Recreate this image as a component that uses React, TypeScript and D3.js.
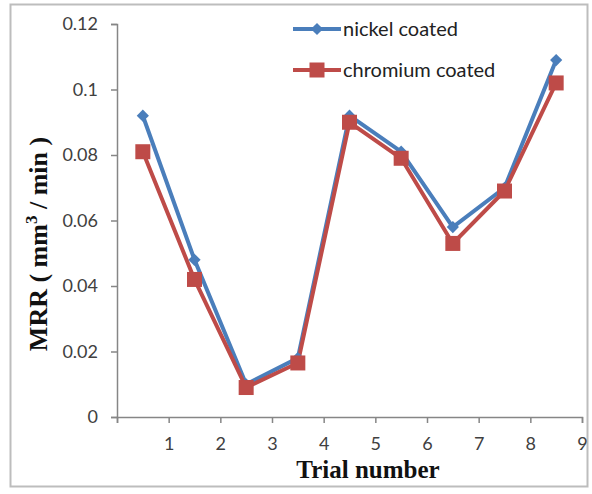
import React, { useEffect, useRef } from 'react';
import * as d3 from 'd3';

const trials = [1, 2, 3, 4, 5, 6, 7, 8, 9];
const nickel = [0.092, 0.048, 0.010, 0.018, 0.092, 0.081, 0.058, 0.070, 0.109];
const chromium = [0.081, 0.042, 0.009, 0.0165, 0.090, 0.079, 0.053, 0.069, 0.102];
const yTicks = [0, 0.02, 0.04, 0.06, 0.08, 0.1, 0.12];
const xTicks = [0, 1, 2, 3, 4, 5, 6, 7, 8, 9];

const BLUE = '#4a7ebb';
const RED = '#be4b48';

const App: React.FC = () => {
  const svgRef = useRef<SVGSVGElement>(null);

  useEffect(() => {
    if (!svgRef.current) return;
    const svg = d3.select(svgRef.current);
    svg.selectAll('*').remove();

    const width = 592;
    const height = 494;
    const left = 117, right = 582, top = 24, bottom = 417;

    // outer frame
    svg.append('rect')
      .attr('x', 10.5).attr('y', 4.5)
      .attr('width', 577).attr('height', 482)
      .attr('fill', '#fff')
      .attr('stroke', '#bdbdbd')
      .attr('stroke-width', 2);

    const x = d3.scaleLinear().domain([0, 9]).range([left, right]);
    const y = d3.scaleLinear().domain([0, 0.12]).range([bottom, top]);

    const tickFont = 'Lato, "Open Sans", sans-serif';

    // y axis
    const yAxis = svg.append('g')
      .attr('transform', `translate(${left},0)`)
      .call(d3.axisLeft(y).tickValues(yTicks).tickSize(6).tickFormat(d => d3.format('~g')(d as number)));
    yAxis.select('.domain').attr('stroke', '#868686').attr('stroke-width', 1.5);
    yAxis.selectAll('.tick line').attr('stroke', '#868686').attr('stroke-width', 1.5);
    yAxis.selectAll('.tick text')
      .attr('x', -19)
      .attr('fill', '#404040')
      .attr('font-size', 18)
      .attr('font-family', tickFont);

    // x axis
    const xAxis = svg.append('g')
      .attr('transform', `translate(0,${bottom})`)
      .call(d3.axisBottom(x).tickValues(xTicks).tickSize(6).tickFormat(d => (d === 0 ? '' : String(d))));
    xAxis.select('.domain').attr('stroke', '#868686').attr('stroke-width', 1.5);
    xAxis.selectAll('.tick line').attr('stroke', '#868686').attr('stroke-width', 1.5);
    xAxis.selectAll('.tick text')
      .attr('y', 20)
      .attr('fill', '#404040')
      .attr('font-size', 18)
      .attr('font-family', tickFont);

    const line = d3.line<number>()
      .x((d, i) => x(trials[i] - 0.5))
      .y(d => y(d));

    // nickel
    svg.append('path')
      .datum(nickel)
      .attr('d', line)
      .attr('fill', 'none')
      .attr('stroke', BLUE)
      .attr('stroke-width', 4);

    // chromium
    svg.append('path')
      .datum(chromium)
      .attr('d', line)
      .attr('fill', 'none')
      .attr('stroke', RED)
      .attr('stroke-width', 4);

    const diamond = d3.symbol().type(d3.symbolDiamond2).size(95);
    svg.selectAll('.nk')
      .data(nickel)
      .enter()
      .append('path')
      .attr('d', diamond)
      .attr('transform', (d, i) => `translate(${x(trials[i] - 0.5)},${y(d)})`)
      .attr('fill', BLUE);

    const sq = 15;
    svg.selectAll('.cr')
      .data(chromium)
      .enter()
      .append('rect')
      .attr('x', (d, i) => x(trials[i] - 0.5) - sq / 2)
      .attr('y', d => y(d) - sq / 2)
      .attr('width', sq)
      .attr('height', sq)
      .attr('fill', RED);

    // legend
    const lg = svg.append('g');
    const items = [
      { label: 'nickel coated', color: BLUE, marker: 'diamond', yy: 29 },
      { label: 'chromium coated', color: RED, marker: 'square', yy: 70 },
    ];
    items.forEach(it => {
      lg.append('line')
        .attr('x1', 293).attr('x2', 341)
        .attr('y1', it.yy).attr('y2', it.yy)
        .attr('stroke', it.color).attr('stroke-width', 4);
      if (it.marker === 'diamond') {
        lg.append('path')
          .attr('d', diamond)
          .attr('transform', `translate(317,${it.yy})`)
          .attr('fill', it.color);
      } else {
        lg.append('rect')
          .attr('x', 317 - sq / 2).attr('y', it.yy - sq / 2)
          .attr('width', sq).attr('height', sq)
          .attr('fill', it.color);
      }
      lg.append('text')
        .attr('x', 343).attr('y', it.yy)
        .attr('dy', '0.35em')
        .attr('fill', '#222')
        .attr('font-size', 20)
        .attr('font-family', tickFont)
        .text(it.label);
    });

    // axis titles
    svg.append('text')
      .attr('x', 368).attr('y', 478)
      .attr('text-anchor', 'middle')
      .attr('font-family', '"Liberation Serif", "Times New Roman", serif')
      .attr('font-weight', 'bold')
      .attr('font-size', 25)
      .attr('fill', '#111')
      .text('Trial number');

    const yt = svg.append('text')
      .attr('transform', 'translate(47,244) rotate(-90)')
      .attr('text-anchor', 'middle')
      .attr('font-family', '"Liberation Serif", "Times New Roman", serif')
      .attr('font-weight', 'bold')
      .attr('font-size', 26)
      .attr('fill', '#111');
    yt.append('tspan').text('MRR ( mm');
    yt.append('tspan').attr('dy', -10).attr('font-size', 17).text('3');
    yt.append('tspan').attr('dy', 10).text(' / min )');

    svg.attr('width', width).attr('height', height);
  }, []);

  return (
    <svg
      ref={svgRef}
      width={592}
      height={494}
      style={{ position: 'absolute', left: 0, top: 0, background: '#fff' }}
    />
  );
};

export default App;
